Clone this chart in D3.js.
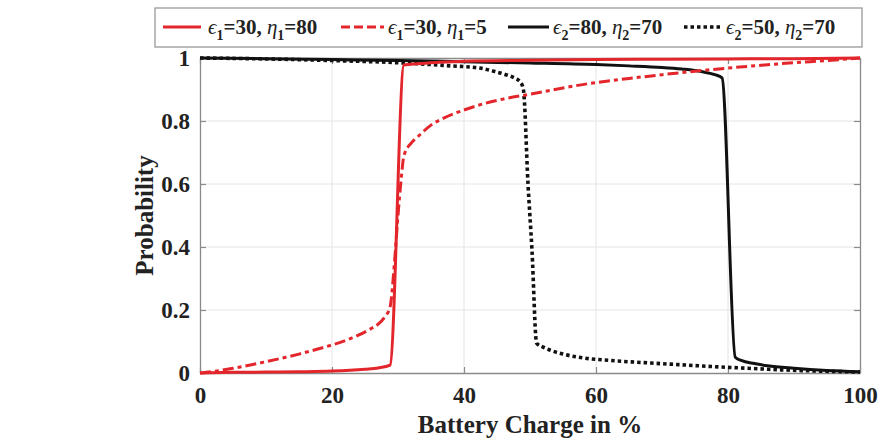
<!DOCTYPE html>
<html><head><meta charset="utf-8">
<script src="https://cdn.jsdelivr.net/npm/d3@7"></script>
<style>
html,body{margin:0;padding:0;background:#fff;}
svg{display:block;}
</style>
</head><body>
<svg id="chart" width="881" height="448"></svg>
<script>
// ---- data ----
const xTicks = [0, 20, 40, 60, 80, 100];
const yTicks = [0, 0.2, 0.4, 0.6, 0.8, 1];
const yTickLabels = ["0", "0.2", "0.4", "0.6", "0.8", "1"];
const xLabel = "Battery Charge in %";
const yLabel = "Probability";

// series 1: eps1=30, eta1=80 (red solid)
const s1X = [0, 5, 10, 15, 20, 25, 27, 28.8, 30.9, 33, 36, 40, 50, 60, 70, 80, 90, 100];
const s1Y = [0, 0.002, 0.003, 0.004, 0.006, 0.012, 0.016, 0.025, 0.978, 0.982, 0.986, 0.99, 0.993, 0.995, 0.996, 0.997, 0.998, 1.0];
// series 2: eps1=30, eta1=5 (red dash-dot)
const s2X = [0, 2, 5, 8, 10, 13, 15, 18, 20, 22, 24, 26, 27, 28, 28.8, 29.5, 30, 30.5, 30.9, 32, 33, 35, 37, 40, 43, 46, 50, 55, 60, 65, 70, 75, 80, 85, 90, 95, 100];
const s2Y = [0, 0.005, 0.015, 0.027, 0.036, 0.05, 0.06, 0.077, 0.089, 0.103, 0.12, 0.142, 0.155, 0.178, 0.21, 0.36, 0.5, 0.62, 0.69, 0.73, 0.75, 0.787, 0.81, 0.835, 0.855, 0.87, 0.885, 0.905, 0.922, 0.935, 0.947, 0.958, 0.968, 0.977, 0.985, 0.992, 1.0];
// series 3: eps2=80, eta2=70 (black solid)
const s3X = [0, 10, 20, 30, 40, 50, 60, 65, 70, 73, 76, 78, 79.1, 81.1, 82, 84, 86, 90, 95, 100];
const s3Y = [1.0, 0.998, 0.995, 0.992, 0.988, 0.984, 0.979, 0.975, 0.97, 0.965, 0.957, 0.947, 0.937, 0.05, 0.04, 0.03, 0.023, 0.015, 0.008, 0.004];
// series 4: eps2=50, eta2=70 (black dotted)
const s4X = [0, 10, 20, 30, 38, 42.4, 44.5, 46.5, 47.8, 48.6, 49, 49.7, 50.3, 51, 52, 53, 55, 58, 62, 68, 73, 78, 83, 88, 94, 100];
const s4Y = [1.0, 0.997, 0.992, 0.985, 0.975, 0.968, 0.958, 0.946, 0.935, 0.922, 0.9, 0.6, 0.39, 0.095, 0.082, 0.073, 0.06, 0.048, 0.04, 0.032, 0.026, 0.02, 0.015, 0.01, 0.006, 0.003];

const seriesNames = [
  {eps: "1", e: "30", eta: "1", h: "80"},
  {eps: "1", e: "30", eta: "1", h: "5"},
  {eps: "2", e: "80", eta: "2", h: "70"},
  {eps: "2", e: "50", eta: "2", h: "70"}
];
const seriesColors = ["#e3262b", "#e3262b", "#111111", "#111111"];
const seriesDash = [null, "11,4,4,4", null, "3.5,3"];

// ---- layout ----
const W = 881, H = 448;
const m = {left: 200, right: 21, top: 58, bottom: 75};
const pw = W - m.left - m.right, ph = H - m.top - m.bottom;
const svg = d3.select("#chart");
const serif = '"Liberation Serif"';

const x = d3.scaleLinear().domain([0, 100]).range([m.left, m.left + pw]);
const y = d3.scaleLinear().domain([0, 1]).range([m.top + ph, m.top]);

// plot background
svg.append("rect").attr("x", m.left).attr("y", m.top).attr("width", pw).attr("height", ph).attr("fill", "#fff");

// grid
svg.append("g").selectAll("line").data(xTicks.slice(1, -1)).join("line")
  .attr("x1", d => x(d)).attr("x2", d => x(d)).attr("y1", m.top).attr("y2", m.top + ph)
  .attr("stroke", "#e4e4e4").attr("stroke-width", 1);
svg.append("g").selectAll("line").data(yTicks.slice(1, -1)).join("line")
  .attr("y1", d => y(d)).attr("y2", d => y(d)).attr("x1", m.left).attr("x2", m.left + pw)
  .attr("stroke", "#e4e4e4").attr("stroke-width", 1);

// axes (inward ticks, box)
const axCol = "#8a8a8a";
function styleAxis(g, showLabels) {
  g.attr("font-family", null);
  g.select(".domain").attr("stroke", axCol).attr("stroke-width", 1.3);
  g.selectAll(".tick line").attr("stroke", axCol).attr("stroke-width", 1.2);
  g.selectAll(".tick text").style("font-family", serif).attr("font-weight", "bold")
    .attr("font-size", 23).attr("fill", "#222");
  if (!showLabels) g.selectAll(".tick text").remove();
}
svg.append("g").attr("transform", `translate(0,${m.top + ph})`)
  .call(d3.axisBottom(x).tickValues(xTicks).tickSizeInner(-6).tickSizeOuter(0).tickPadding(14).tickFormat(d3.format("d")))
  .call(g => styleAxis(g, true));
svg.append("g").attr("transform", `translate(0,${m.top})`)
  .call(d3.axisTop(x).tickValues(xTicks).tickSizeInner(-6).tickSizeOuter(0))
  .call(g => styleAxis(g, false));
svg.append("g").attr("transform", `translate(${m.left},0)`)
  .call(d3.axisLeft(y).tickValues(yTicks).tickSizeInner(-6).tickSizeOuter(0).tickPadding(10).tickFormat((d, i) => yTickLabels[i]))
  .call(g => styleAxis(g, true));
svg.append("g").attr("transform", `translate(${m.left + pw},0)`)
  .call(d3.axisRight(y).tickValues(yTicks).tickSizeInner(-6).tickSizeOuter(0))
  .call(g => styleAxis(g, false));

// lines
const allX = [s1X, s2X, s3X, s4X], allY = [s1Y, s2Y, s3Y, s4Y];
const line = d3.line().x(d => x(d[0])).y(d => y(d[1])).curve(d3.curveMonotoneX);
const drawOrder = [3, 2, 1, 0];
drawOrder.forEach(i => {
  const pts = allX[i].map((v, k) => [v, allY[i][k]]);
  svg.append("path").datum(pts).attr("d", line)
    .attr("fill", "none").attr("stroke", seriesColors[i])
    .attr("stroke-width", i === 3 ? 3.6 : 3)
    .attr("stroke-dasharray", seriesDash[i])
    .attr("stroke-linejoin", "round");
});

// axis titles
svg.append("text").attr("x", x(50)).attr("y", 433).attr("text-anchor", "middle")
  .style("font-family", serif).attr("font-weight", "bold").attr("font-size", 25).attr("fill", "#222")
  .text(xLabel);
svg.append("text").attr("transform", `translate(153,${y(0.5)}) rotate(-90)`).attr("text-anchor", "middle")
  .style("font-family", serif).attr("font-weight", "bold").attr("font-size", 25).attr("fill", "#222")
  .text(yLabel);

// legend
const lg = svg.append("g");
lg.append("rect").attr("x", 155).attr("y", 8).attr("width", 707).attr("height", 39)
  .attr("fill", "#fff").attr("stroke", "#999").attr("stroke-width", 1.3);
const legendLineX = [[163, 201], [341, 384], [508, 549], [684, 721]];
const legendTextX = [208, 388, 553, 726];
seriesNames.forEach((s, i) => {
  lg.append("line").attr("x1", legendLineX[i][0]).attr("x2", legendLineX[i][1]).attr("y1", 27).attr("y2", 27)
    .attr("stroke", seriesColors[i]).attr("stroke-width", i === 3 ? 3.6 : 3)
    .attr("stroke-dasharray", i === 1 ? "9,4" : seriesDash[i]);
  const t = lg.append("text").attr("x", legendTextX[i]).attr("y", 34)
    .style("font-family", serif).attr("font-weight", "bold").attr("font-size", 21).attr("fill", "#222");
  t.append("tspan").attr("font-style", "italic").attr("font-weight", "normal").text("\u03F5");
  t.append("tspan").attr("font-size", 14).attr("dy", 6).text(s.eps);
  t.append("tspan").attr("dy", -6).text("=" + s.e + ", ");
  t.append("tspan").attr("font-style", "italic").attr("font-weight", "normal").text("\u03B7");
  t.append("tspan").attr("font-size", 14).attr("dy", 6).text(s.eta);
  t.append("tspan").attr("dy", -6).text("=" + s.h);
});
</script>
</body></html>
